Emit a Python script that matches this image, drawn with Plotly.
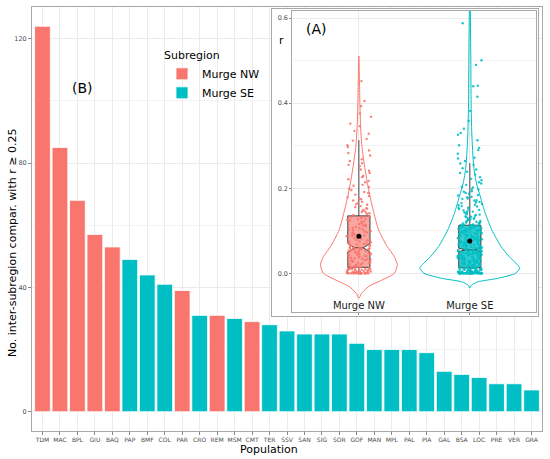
import math
import plotly.graph_objects as go

# ---------------- data ----------------
populations = ["TDM", "MAC", "BPL", "GIU", "BAQ", "PAP", "BMF", "COL", "PAR", "CRO",
               "REM", "MSM", "CMT", "TER", "SSV", "SAN", "SIG", "SOR", "GOF", "MAN",
               "MPL", "PAL", "PIA", "GAL", "BSA", "LOC", "PRE", "VER", "GRA"]
counts = [124, 85, 68, 57, 53, 49, 44, 41, 39, 31,
          31, 30, 29, 28, 26, 25, 25, 25, 22, 20,
          20, 20, 19, 13, 12, 11, 9, 9, 7]
subregion = ["Murge NW", "Murge NW", "Murge NW", "Murge NW", "Murge NW", "Murge SE", "Murge SE",
             "Murge SE", "Murge NW", "Murge SE", "Murge NW", "Murge SE", "Murge NW", "Murge SE",
             "Murge SE", "Murge SE", "Murge SE", "Murge SE", "Murge SE", "Murge SE", "Murge SE",
             "Murge SE", "Murge SE", "Murge SE", "Murge SE", "Murge SE", "Murge SE", "Murge SE",
             "Murge SE"]
groups = ["Murge NW", "Murge SE"]

x_title = "Population"
y_title = "No. inter-subregion compar. with r \u2265 0.25"

# inset (A): r values (sample read from the jittered points)
nw_r = [0, 0, 0, 0, 0, 0, 0, 0, 0, 0, 0, 0, 0.001, 0.001, 0.002, 0.003, 0.003, 0.004, 0.005,
        0.006, 0.006, 0.007, 0.008, 0.009, 0.010, 0.010, 0.011, 0.012, 0.013, 0.013,
        0.015, 0.016, 0.018, 0.021, 0.022, 0.023, 0.026, 0.028, 0.029, 0.031, 0.033, 0.034,
        0.037, 0.038, 0.040, 0.041, 0.043, 0.044, 0.046, 0.047, 0.049, 0.050, 0.052, 0.053,
        0.055, 0.056, 0.057, 0.058, 0.059, 0.060,
        0.061, 0.063, 0.066, 0.067, 0.069, 0.072, 0.073, 0.075, 0.078, 0.081, 0.083, 0.084,
        0.087, 0.089, 0.091, 0.094, 0.096, 0.099, 0.101, 0.104, 0.106, 0.109, 0.112, 0.114,
        0.117, 0.121, 0.124, 0.127, 0.130, 0.133,
        0.137, 0.141, 0.144, 0.149, 0.152, 0.156, 0.161, 0.165, 0.171, 0.174, 0.179, 0.185,
        0.189, 0.196, 0.203, 0.208, 0.214, 0.221, 0.229, 0.236, 0.244, 0.252, 0.259, 0.268,
        0.277, 0.289, 0.301, 0.316, 0.328, 0.335, 0.352, 0.368, 0.393, 0.405, 0.452,
        0, 0, 0, 0, 0, 0, 0, 0.001, 0.002, 0.002, 0.004, 0.004, 0.005, 0.007, 0.008, 0.009,
        0.010, 0.011, 0.011, 0.012, 0.013, 0.014,
        0.017, 0.019, 0.020, 0.024, 0.025, 0.027, 0.030, 0.032, 0.035, 0.036, 0.039, 0.042,
        0.045, 0.048, 0.051, 0.052, 0.054, 0.055, 0.057, 0.058, 0.059, 0.044, 0.031,
        0.062, 0.065, 0.068, 0.070, 0.074, 0.077, 0.079, 0.082, 0.086, 0.088, 0.092, 0.095,
        0.098, 0.103, 0.107, 0.111, 0.116, 0.119, 0.123, 0.126, 0.129, 0.132, 0.134,
        0.139, 0.143, 0.147, 0.153, 0.158, 0.163, 0.168, 0.176, 0.182, 0.191, 0.199, 0.206,
        0.217, 0.226, 0.241, 0.255, 0.264, 0.283, 0.297, 0.312, 0.346, 0.376]
se_r = [0, 0, 0, 0, 0, 0, 0, 0, 0, 0, 0, 0, 0, 0, 0, 0, 0, 0, 0, 0, 0, 0, 0, 0, 0,
        0.001, 0.001, 0.002, 0.002, 0.003, 0.003, 0.004, 0.004, 0.005, 0.005, 0.006, 0.006,
        0.007, 0.007, 0.008, 0.008, 0.009, 0.009, 0.010, 0.010, 0.011, 0.011, 0.012, 0.012, 0.013,
        0.014, 0.015, 0.016, 0.016, 0.017, 0.018, 0.019, 0.020, 0.021, 0.022, 0.023, 0.023,
        0.024, 0.025, 0.026, 0.027, 0.028, 0.029, 0.030, 0.031, 0.032, 0.032, 0.033, 0.034,
        0.035, 0.036, 0.037, 0.038, 0.039, 0.040, 0.041, 0.041, 0.042, 0.043, 0.044, 0.045,
        0.046, 0.046, 0.047, 0.048, 0.049, 0.050, 0.050, 0.051, 0.052, 0.052, 0.053, 0.054,
        0.054, 0.055,
        0.056, 0.057, 0.058, 0.060, 0.061, 0.062, 0.063, 0.065, 0.066, 0.067, 0.068, 0.069,
        0.071, 0.072, 0.073, 0.074, 0.075, 0.077, 0.078, 0.079, 0.080, 0.081, 0.082, 0.084,
        0.085, 0.086, 0.087, 0.088, 0.089, 0.091, 0.092, 0.093, 0.094, 0.095, 0.096, 0.097,
        0.098, 0.099, 0.101, 0.102, 0.103, 0.104, 0.105, 0.107, 0.108, 0.109, 0.110, 0.111,
        0.112, 0.113,
        0.115, 0.117, 0.119, 0.121, 0.123, 0.126, 0.128, 0.130, 0.133, 0.135, 0.138, 0.141,
        0.143, 0.146, 0.149, 0.152, 0.155, 0.158, 0.161, 0.165, 0.168, 0.172, 0.176, 0.180,
        0.184, 0.189, 0.193, 0.198, 0.203, 0.208, 0.214, 0.219, 0.226, 0.232, 0.239, 0.247,
        0.255, 0.264, 0.272, 0.281, 0.290, 0.301, 0.313, 0.326, 0.340, 0.358, 0.382, 0.415,
        0.441, 0.490, 0.501, 0.588,
        0, 0, 0, 0, 0, 0, 0, 0, 0, 0, 0, 0, 0, 0, 0, 0, 0,
        0.001, 0.001, 0.002, 0.003, 0.003, 0.004, 0.005, 0.005, 0.006, 0.007, 0.008, 0.008,
        0.009, 0.010, 0.011, 0.011, 0.012, 0.012, 0.013,
        0.014, 0.015, 0.017, 0.018, 0.019, 0.020, 0.021, 0.022, 0.024, 0.025, 0.026, 0.027,
        0.028, 0.029, 0.030, 0.031, 0.033, 0.034, 0.035, 0.036, 0.037, 0.038, 0.039, 0.040,
        0.042, 0.043, 0.044, 0.045, 0.047, 0.048, 0.049, 0.050, 0.051, 0.052, 0.053, 0.054,
        0.055, 0.045,
        0.056, 0.058, 0.059, 0.060, 0.062, 0.064, 0.065, 0.067, 0.069, 0.070, 0.072, 0.073,
        0.075, 0.076, 0.078, 0.080, 0.081, 0.083, 0.085, 0.086, 0.088, 0.090, 0.091, 0.093,
        0.094, 0.096, 0.098, 0.099, 0.100, 0.102, 0.104, 0.106, 0.107, 0.109, 0.110, 0.112,
        0.113,
        0.114, 0.116, 0.118, 0.120, 0.122, 0.124, 0.127, 0.129, 0.132, 0.134, 0.137, 0.139,
        0.142, 0.145, 0.148, 0.151, 0.154, 0.157, 0.160, 0.163, 0.167, 0.171, 0.175, 0.179,
        0.183, 0.187, 0.192, 0.197, 0.202, 0.211, 0.222, 0.236, 0.244, 0.258, 0.270, 0.295,
        0.330, 0.440]

# violin outlines: r levels and relative density (1 = widest violin)
nw_violin_r = [-0.059, -0.047, -0.031, -0.016, 0.0, 0.02, 0.039, 0.063, 0.102, 0.141,
               0.18, 0.22, 0.259, 0.30, 0.35, 0.40, 0.45, 0.511]
nw_violin_d = [0, 0.053, 0.197, 0.461, 0.711, 0.770, 0.711, 0.566, 0.395, 0.303,
               0.224, 0.158, 0.105, 0.059, 0.033, 0.020, 0.013, 0]
se_violin_r = [-0.035, -0.028, -0.02, -0.012, 0.0, 0.012, 0.02, 0.039, 0.063, 0.102,
               0.141, 0.18, 0.212, 0.25, 0.33, 0.40, 0.50, 0.62, 0.70]
se_violin_d = [0, 0.033, 0.164, 0.559, 0.921, 1.0, 0.954, 0.789, 0.625, 0.441,
               0.309, 0.211, 0.132, 0.079, 0.039, 0.026, 0.020, 0.010, 0.007]

# box summaries
box_q1 = [0.014, 0.013]
box_median = [0.060, 0.055]
box_q3 = [0.135, 0.113]
box_lower = [0.0, 0.0]
box_upper = [0.313, 0.259]
box_notch = [0.010, 0.004]
r_mean = [0.087, 0.076]

# ---------------- style ----------------
COLORS = {"Murge NW": "#F8766D", "Murge SE": "#00BFC4"}
FILLS = {"Murge NW": "rgba(248,118,109,0.65)", "Murge SE": "rgba(0,191,196,0.8)"}
FONT = "DejaVu Sans"
GRID = "#EBEBEB"
BORDER = "#A8A8A8"
TICKTXT = "#4D4D4D"
JITTER_HALF = 0.11

W, H = 550, 459
ML, MR, MT, MB = 32, 8, 7, 28
PW, PH = W - ML - MR, H - MT - MB


def px_x(p):
    return (p - ML) / PW


def px_y(p):
    return (H - MB - p) / PH


def jitter(n, center, seed):
    # deterministic horizontal spread for the jittered points (visual only)
    out = []
    for k in range(n):
        u = math.sin((k + 1) * 12.9898 + seed * 78.233) * 43758.5453
        u = u - math.floor(u)
        out.append(center + JITTER_HALF * (2 * u - 1))
    return out


fig = go.Figure()

# ---- main bar chart (B) ----
for g in groups:
    xs = [p for p, s in zip(populations, subregion) if s == g]
    ys = [c for c, s in zip(counts, subregion) if s == g]
    fig.add_trace(go.Bar(x=xs, y=ys, name=g, width=0.9,
                         marker=dict(color=COLORS[g], line=dict(color="white", width=0.8)),
                         xaxis="x", yaxis="y"))

# ---- inset background/frame subplot ----
fig.add_trace(go.Scatter(x=[], y=[], xaxis="x2", yaxis="y2", showlegend=False,
                         hoverinfo="skip"))

# ---- inset (A) ----
vio = [(nw_violin_r, nw_violin_d), (se_violin_r, se_violin_d)]
for i, g in enumerate(groups):
    rr, dd = vio[i]
    xs = [i + 0.45 * d for d in dd] + [i - 0.45 * d for d in dd[::-1]]
    ys = list(rr) + list(rr[::-1])
    fig.add_trace(go.Scatter(x=xs, y=ys, mode="lines",
                             line=dict(color=COLORS[g], width=1, shape="spline", smoothing=0.6),
                             showlegend=False, hoverinfo="skip", xaxis="x3", yaxis="y3"))

for i, g in enumerate(groups):
    fig.add_trace(go.Box(x=[i], q1=[box_q1[i]], median=[box_median[i]], q3=[box_q3[i]],
                         lowerfence=[box_lower[i]], upperfence=[box_upper[i]],
                         notched=True, notchspan=[box_notch[i]], notchwidth=0.3,
                         width=0.2, whiskerwidth=0, fillcolor=FILLS[g],
                         line=dict(color="#333333", width=0.9),
                         showlegend=False, hoverinfo="skip", xaxis="x3", yaxis="y3"))

pts = [nw_r, se_r]
for i, g in enumerate(groups):
    fig.add_trace(go.Scatter(x=jitter(len(pts[i]), i, i + 1), y=pts[i], mode="markers",
                             marker=dict(color=COLORS[g], size=2.4, opacity=0.9,
                                         line=dict(width=0)),
                             showlegend=False, hoverinfo="skip", xaxis="x3", yaxis="y3"))

fig.add_trace(go.Scatter(x=[0, 1], y=r_mean, mode="markers",
                         marker=dict(color="black", size=5), showlegend=False,
                         hoverinfo="skip", xaxis="x3", yaxis="y3"))

# ---------------- layout ----------------
fig.update_layout(
    width=W, height=H,
    margin=dict(l=ML, r=MR, t=MT, b=MB, pad=0),
    paper_bgcolor="white", plot_bgcolor="white",
    font=dict(family=FONT, color="black"),
    barmode="overlay", boxmode="overlay",
    showlegend=True,
    legend=dict(title=dict(text="Subregion", font=dict(size=11, family=FONT)),
                font=dict(size=11, family=FONT), x=px_x(162), y=px_y(45),
                xanchor="left", yanchor="top", bgcolor="rgba(0,0,0,0)",
                tracegroupgap=0, itemwidth=30),
    xaxis=dict(type="category", categoryorder="array", categoryarray=populations,
               range=[-0.6, len(populations) - 0.4], domain=[0, 1], anchor="y",
               showgrid=True, gridcolor=GRID, gridwidth=0.7, automargin=False,
               showline=True, mirror=True, linecolor=BORDER, linewidth=1,
               ticks="outside", ticklen=3, tickcolor="#888888", tickwidth=0.7,
               tickangle=0, tickfont=dict(size=6, color=TICKTXT),
               zeroline=False, fixedrange=True),
    yaxis=dict(range=[-6.2, 130.2], domain=[0, 1], anchor="x", automargin=False,
               tickvals=[0, 40, 80, 120], showgrid=True, gridcolor=GRID, gridwidth=0.7,
               minor=dict(dtick=20, tick0=0, showgrid=True, gridcolor="#F3F3F3", gridwidth=0.5),
               showline=True, mirror=True, linecolor=BORDER, linewidth=1,
               ticks="outside", ticklen=3, tickcolor="#888888", tickwidth=0.7,
               tickfont=dict(size=6.5, color=TICKTXT),
               zeroline=False, fixedrange=True),
    xaxis2=dict(domain=[px_x(272.3), px_x(537.7)], anchor="y2", range=[0, 1],
                showgrid=False, zeroline=False, showticklabels=False, ticks="",
                automargin=False, fixedrange=True,
                showline=True, mirror=True, linecolor=BORDER, linewidth=1.2),
    yaxis2=dict(domain=[px_y(316), px_y(9)], anchor="x2", range=[0, 1],
                showgrid=False, zeroline=False, showticklabels=False, ticks="",
                automargin=False, fixedrange=True,
                showline=True, mirror=True, linecolor=BORDER, linewidth=1.2),
    xaxis3=dict(domain=[px_x(292.3), px_x(536.4)], anchor="y3", range=[-0.6, 1.6],
                tickvals=[0, 1], ticktext=groups, ticklabelposition="inside",
                showgrid=True, gridcolor=GRID, gridwidth=0.7, zeroline=False,
                automargin=False, fixedrange=True,
                showline=True, mirror=True, linecolor=BORDER, linewidth=1,
                ticks="outside", ticklen=2, tickcolor="#888888", tickwidth=0.7,
                tickfont=dict(size=10, color="#1A1A1A")),
    yaxis3=dict(domain=[px_y(311.7), px_y(10.5)], anchor="x3", range=[-0.0904, 0.618],
                tickvals=[0, 0.2, 0.4, 0.6], ticktext=["0.0", "0.2", "0.4", "0.6"],
                showgrid=True, gridcolor=GRID, gridwidth=0.7, zeroline=False,
                automargin=False, fixedrange=True,
                minor=dict(dtick=0.1, tick0=0, showgrid=True, gridcolor="#F3F3F3", gridwidth=0.5),
                showline=True, mirror=True, linecolor=BORDER, linewidth=1,
                ticks="outside", ticklen=2, tickcolor="#888888", tickwidth=0.7,
                tickfont=dict(size=6.5, color=TICKTXT)),
    annotations=[
        dict(text=x_title, x=px_x(269), y=px_y(449), xref="paper", yref="paper",
             showarrow=False, font=dict(size=11, color="black"), xanchor="center", yanchor="middle"),
        dict(text=y_title, x=px_x(12), y=px_y(243), xref="paper", yref="paper", textangle=-90,
             showarrow=False, font=dict(size=11, color="black"), xanchor="center", yanchor="middle"),
        dict(text="(B)", x=px_x(82.5), y=px_y(88.3), xref="paper", yref="paper",
             showarrow=False, font=dict(size=14, color="black"), xanchor="center", yanchor="middle"),
        dict(text="(A)", x=px_x(316.7), y=px_y(29), xref="paper", yref="paper",
             showarrow=False, font=dict(size=14, color="black"), xanchor="center", yanchor="middle"),
        dict(text="r", x=px_x(281), y=px_y(40.7), xref="paper", yref="paper",
             showarrow=False, font=dict(size=11, color="black"), xanchor="center", yanchor="middle"),
    ],
)

fig.write_html("out.html", config={"displayModeBar": False},
               post_script="document.body.style.margin='0px';document.body.style.padding='0px';")
